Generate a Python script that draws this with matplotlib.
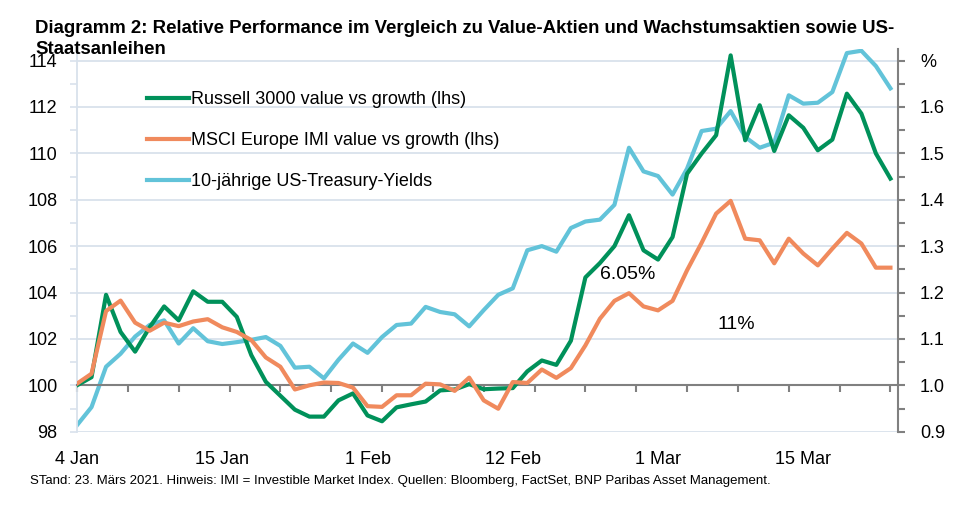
import numpy as np
import matplotlib
matplotlib.use('Agg')
import matplotlib.pyplot as plt
from matplotlib import font_manager
from matplotlib.ticker import MultipleLocator

installed = {f.name for f in font_manager.fontManager.ttflist}
base_font = 'Liberation Sans' if 'Liberation Sans' in installed else 'DejaVu Sans'
plt.rcParams['font.family'] = [base_font, 'DejaVu Sans']

# Russell 3000 value vs growth (lhs), index
russell = [100.0, 100.35, 103.9, 102.3, 101.45, 102.5, 103.4, 102.8, 104.05, 103.6,
           103.6, 102.95, 101.3, 100.15, 99.55, 98.95, 98.65, 98.65, 99.35, 99.65,
           98.7, 98.45, 99.05, 99.18, 99.3, 99.78, 99.82, 100.05, 99.83, 99.86,
           99.88, 100.6, 101.07, 100.88, 101.92, 104.65, 105.27, 106.0, 107.33, 105.82,
           105.42, 106.39, 109.12, 109.99, 110.78, 114.22, 110.56, 112.07, 110.1, 111.64,
           111.1, 110.13, 110.59, 112.57, 111.71, 109.99, 108.91]
# MSCI Europe IMI value vs growth (lhs), index
msci = [100.07, 100.5, 103.2, 103.65, 102.7, 102.35, 102.7, 102.55, 102.75, 102.85,
        102.5, 102.3, 101.95, 101.2, 100.8, 99.82, 100.0, 100.12, 100.1, 99.9,
        99.1, 99.07, 99.57, 99.57, 100.07, 100.04, 99.76, 100.33, 99.35, 98.99,
        100.14, 100.1, 100.68, 100.32, 100.74, 101.72, 102.87, 103.64, 103.97, 103.4,
        103.23, 103.64, 104.96, 106.14, 107.4, 107.95, 106.32, 106.25, 105.26, 106.32,
        105.68, 105.17, 105.89, 106.57, 106.11, 105.07, 105.07]
# 10-jaehrige US-Treasury-Yields (rhs), %
yields = [0.914, 0.953, 1.040, 1.068, 1.105, 1.130, 1.140, 1.090, 1.123, 1.095,
          1.089, 1.093, 1.098, 1.104, 1.085, 1.038, 1.040, 1.015, 1.055, 1.090,
          1.070, 1.104, 1.130, 1.133, 1.169, 1.158, 1.153, 1.127, 1.162, 1.195,
          1.209, 1.291, 1.300, 1.288, 1.339, 1.353, 1.357, 1.389, 1.512, 1.461,
          1.451, 1.411, 1.467, 1.548, 1.553, 1.591, 1.535, 1.512, 1.523, 1.625,
          1.607, 1.609, 1.632, 1.716, 1.721, 1.688, 1.640]
x_labels = ['4 Jan', '15 Jan', '1 Feb', '12 Feb', '1 Mar', '15 Mar']
label_pos = [0, 10, 20, 30, 40, 50]
right_ticks = [0.9, 1.0, 1.1, 1.2, 1.3, 1.4, 1.5, 1.6, 1.7]
right_labels = ['0.9', '1.0', '1.1', '1.2', '1.3', '1.4', '1.5', '1.6', '%']

green = '#00915A'
orange = '#F08A5D'
teal = '#62C3D9'
grid_col = '#D9E2EC'
axis_col = '#808080'

W, H = 964, 509
fig = plt.figure(figsize=(W / 100, H / 100), dpi=100)
ax = fig.add_axes([77 / W, 1 - 431.7 / H, (897.7 - 77) / W, (431.7 - 48.9) / H])
ax2 = ax.twinx()
ax.set_zorder(ax2.get_zorder() + 1)
ax.patch.set_visible(False)

x = np.arange(len(russell))

# rechte Achse: Renditen + Gitter
l3, = ax2.plot(x, yields, color=teal, lw=3, zorder=3,
               label='10-jährige US-Treasury-Yields')
ax2.set_ylim(0.9, 1.725)
ax2.set_yticks(right_ticks, labels=right_labels)
ax2.yaxis.set_minor_locator(MultipleLocator(0.05))
ax2.yaxis.grid(True, color=grid_col, lw=1.3)
ax2.set_axisbelow(True)
ax2.tick_params(axis='y', which='both', direction='out', length=5, width=1.5,
                color=axis_col, labelsize=13, pad=11)
for s in ['left', 'top', 'bottom']:
    ax2.spines[s].set_visible(False)
ax2.spines['right'].set_color(axis_col)
ax2.spines['right'].set_linewidth(1.5)

# linke Achse: Indizes
l1, = ax.plot(x, russell, color=green, lw=3, zorder=3,
              label='Russell 3000 value vs growth (lhs)')
l2, = ax.plot(x, msci, color=orange, lw=3, zorder=3,
              label='MSCI Europe IMI value vs growth (lhs)')
ax.set_xlim(0, 56.5)
ax.set_ylim(98, 114.5)
ax.set_yticks(np.arange(98, 115, 2))
ax.yaxis.set_minor_locator(MultipleLocator(1))
ax.tick_params(axis='y', which='both', direction='out', length=5, width=1.2,
               color=grid_col, labelsize=13, pad=9)
ax.spines['left'].set_color(grid_col)
ax.spines['left'].set_linewidth(1.3)
ax.spines['top'].set_visible(False)
ax.spines['right'].set_visible(False)
ax.spines['bottom'].set_position(('data', 100))
ax.spines['bottom'].set_color(axis_col)
ax.spines['bottom'].set_linewidth(1.5)
ax.set_xticks(np.arange(0, 56.1, 3.5))
ax.tick_params(axis='x', direction='out', length=5, width=1.5, color=axis_col,
               labelbottom=False)

sec = ax.secondary_xaxis(0)
sec.set_xticks(label_pos, labels=x_labels)
sec.tick_params(length=0, pad=14, labelsize=13)
sec.spines['bottom'].set_visible(False)

ax.text(36.0, 104.6, '6.05%', fontsize=14, va='baseline')
ax.text(44.1, 102.41, '11%', fontsize=14, va='baseline')

ax.legend(handles=[l1, l2, l3], loc='upper left', bbox_to_anchor=(147 / W, 1 - 91 / H),
          bbox_transform=fig.transFigure, frameon=False, fontsize=13,
          handlelength=2.3, handletextpad=0.15, labelspacing=1.33,
          borderpad=0, borderaxespad=0)

fig.text(35 / W, 1 - 20 / H,
         'Diagramm 2: Relative Performance im Vergleich zu Value-Aktien und Wachstumsaktien sowie US-\nStaatsanleihen',
         fontsize=13.4, fontweight='bold', va='top', linespacing=1.28)
fig.text(30 / W, 1 - 481 / H,
         'STand: 23. Märs 2021. Hinweis: IMI = Investible Market Index. Quellen: Bloomberg, FactSet, BNP Paribas Asset Management.',
         fontsize=9.5, va='center')

fig.savefig('out.png', dpi=100)
